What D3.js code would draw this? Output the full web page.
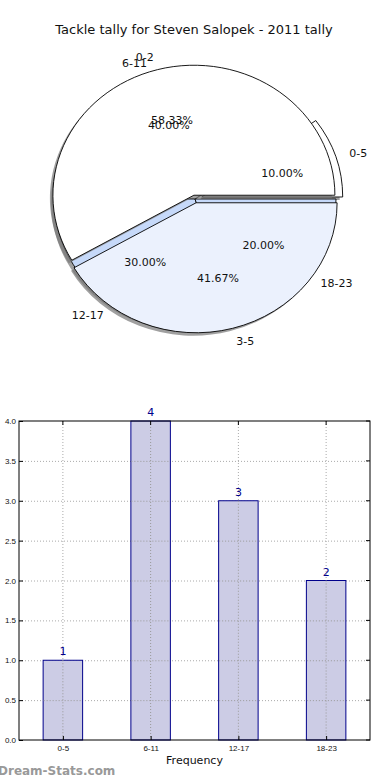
<!DOCTYPE html>
<html>
<head>
<meta charset="utf-8">
<script src="https://cdn.jsdelivr.net/npm/d3@7"></script>
<style>
  body { margin: 0; background: #fff; }
  svg { display: block; font-family: "DejaVu Sans", sans-serif; }
</style>
</head>
<body>
<div id="chart"></div>
<script>
// tackle tally, by minute band
let ranges = ["0-5", "6-11", "12-17", "18-23"];
let tackles = [1, 4, 3, 2];
let rangeColors = ["#ffffff", "#ffffff", "#c6d9f9", "#c6d9f9"];
let rangeExplode = [0.05, 0, 0, 0];

// second pie drawn over the first one
let pie2Labels = ["0-2", "3-5"];
let pie2Values = [7, 5];
let pie2Colors = ["#ffffff", "#ebf1fd"];
let pie2Explode = [0.03, 0.03];

let yTicks = [0, 0.5, 1, 1.5, 2, 2.5, 3, 3.5, 4];

let width = 390, height = 780;

let svg = d3.select("#chart")
  .append("svg")
  .attr("width", width)
  .attr("height", height);

svg.append("text")
  .attr("x", 194)
  .attr("y", 34)
  .attr("text-anchor", "middle")
  .style("font-size", "13px")
  .attr("fill", "#111")
  .text("Tackle tally for Steven Salopek - 2011 tally");

// ---- pie ----
let cx = 195, cy = 199, rx = 141, ry = 130;

let pie = d3.pie().sort(null)
  .startAngle(Math.PI / 2)
  .endAngle(Math.PI / 2 - 2 * Math.PI);

let arc = d3.arc().innerRadius(0).outerRadius(1);

let pieLayer = svg.append("g");
let labelLayer = svg.append("g");  // all pie texts sit above both pies

function drawPie(labels, values, colors, explode) {
  let total = d3.sum(values);
  let slices = pie(values);
  let g = pieLayer.append("g");

  slices.forEach(function(d, i) {
    let mid = (d.startAngle + d.endAngle) / 2;
    // d3 angle -> unit vector (0 = up, clockwise)
    let ux = Math.sin(mid), uy = -Math.cos(mid);
    d.ox = cx + explode[i] * rx * ux;
    d.oy = cy + explode[i] * ry * uy;
    d.ux = ux; d.uy = uy;
  });

  // shadows
  slices.forEach(function(d) {
    g.append("path")
      .attr("d", arc(d))
      .attr("transform", `translate(${d.ox - 3},${d.oy + 3}) scale(${rx},${ry})`)
      .attr("fill", "#777")
      .attr("fill-opacity", 0.7);
  });

  slices.forEach(function(d, i) {
    g.append("path")
      .attr("d", arc(d))
      .attr("transform", `translate(${d.ox},${d.oy}) scale(${rx},${ry})`)
      .attr("fill", colors[i])
      .attr("stroke", "#000")
      .attr("stroke-width", 0.9)
      .attr("vector-effect", "non-scaling-stroke");
  });

  slices.forEach(function(d, i) {
    labelLayer.append("text")
      .attr("x", d.ox + 1.1 * rx * d.ux)
      .attr("y", d.oy + 1.1 * ry * d.uy)
      .attr("dy", "0.35em")
      .attr("text-anchor", d.ux > 0 ? "start" : "end")
      .style("font-size", "11px")
      .attr("fill", "#111")
      .text(labels[i]);

    labelLayer.append("text")
      .attr("x", d.ox + 0.6 * rx * d.ux)
      .attr("y", d.oy + 0.6 * ry * d.uy)
      .attr("dy", "0.35em")
      .attr("text-anchor", "middle")
      .style("font-size", "11px")
      .attr("fill", "#111")
      .text((values[i] / total * 100).toFixed(2) + "%");
  });
}

drawPie(ranges, tackles, rangeColors, rangeExplode);
drawPie(pie2Labels, pie2Values, pie2Colors, pie2Explode);

// ---- bar chart ----
let plotLeft = 19, plotRight = 370, plotTop = 421, plotBottom = 740;

let x = d3.scalePoint()
  .domain(ranges)
  .range([plotLeft, plotRight])
  .padding(0.5);

let y = d3.scaleLinear()
  .domain([0, 4])
  .range([plotBottom, plotTop]);

let barW = x.step() * 0.45;

let grid = svg.append("g")
  .attr("stroke", "#aaa")
  .attr("stroke-dasharray", "1,2")
  .attr("stroke-width", 1);

grid.selectAll(".gy")
  .data(yTicks.slice(1, -1))
  .enter()
  .append("line")
  .attr("x1", plotLeft).attr("x2", plotRight)
  .attr("y1", d => y(d) + 0.5).attr("y2", d => y(d) + 0.5);

grid.selectAll(".gx")
  .data(ranges)
  .enter()
  .append("line")
  .attr("x1", d => x(d)).attr("x2", d => x(d))
  .attr("y1", plotTop).attr("y2", plotBottom);

svg.selectAll(".bar")
  .data(tackles)
  .enter()
  .append("rect")
  .attr("class", "bar")
  .attr("x", (d, i) => x(ranges[i]) - barW / 2)
  .attr("y", d => y(d))
  .attr("width", barW)
  .attr("height", d => plotBottom - y(d))
  .attr("fill", "#ccccE5")
  .attr("stroke", "#00008b")
  .attr("stroke-width", 1);

// grid shows through the bars in the reference
let grid2 = svg.append("g")
  .attr("stroke", "#999")
  .attr("stroke-dasharray", "1,2");

grid2.selectAll(".vx")
  .data(tackles)
  .enter()
  .append("line")
  .attr("x1", (d, i) => x(ranges[i])).attr("x2", (d, i) => x(ranges[i]))
  .attr("y1", d => y(d)).attr("y2", plotBottom);

grid2.selectAll(".vy")
  .data(tackles)
  .enter()
  .append("g")
  .each(function(v, i) {
    d3.select(this).selectAll("line")
      .data(yTicks.filter(t => t > 0 && t < v))
      .enter()
      .append("line")
      .attr("x1", x(ranges[i]) - barW / 2 + 0.5).attr("x2", x(ranges[i]) + barW / 2 - 0.5)
      .attr("y1", t => y(t) + 0.5).attr("y2", t => y(t) + 0.5);
  });

svg.selectAll(".val")
  .data(tackles)
  .enter()
  .append("text")
  .attr("x", (d, i) => x(ranges[i]))
  .attr("y", d => y(d) - 5)
  .attr("text-anchor", "middle")
  .style("font-size", "11px")
  .attr("fill", "#00008b")
  .text(d => d);

let yAxis = d3.axisLeft(y)
  .tickValues(yTicks)
  .tickFormat(d3.format(".1f"))
  .tickSize(-4)
  .tickPadding(3);

let yg = svg.append("g")
  .attr("transform", `translate(${plotLeft},0)`)
  .call(yAxis);
yg.select(".domain").remove();
yg.selectAll("text").style("font-size", "8px").attr("fill", "#111");

let xAxis = d3.axisBottom(x)
  .tickSize(-4)
  .tickPadding(5);

let xg = svg.append("g")
  .attr("transform", `translate(0,${plotBottom})`)
  .call(xAxis);
xg.select(".domain").remove();
xg.selectAll("text").style("font-size", "8px").attr("fill", "#111");

// top/right ticks
svg.append("g").selectAll("line")
  .data(ranges).enter().append("line")
  .attr("x1", d => x(d)).attr("x2", d => x(d))
  .attr("y1", plotTop).attr("y2", plotTop + 4)
  .attr("stroke", "#000");
svg.append("g").selectAll("line")
  .data(yTicks).enter().append("line")
  .attr("x1", plotRight - 4).attr("x2", plotRight)
  .attr("y1", d => y(d)).attr("y2", d => y(d))
  .attr("stroke", "#000");

svg.append("rect")
  .attr("x", plotLeft).attr("y", plotTop)
  .attr("width", plotRight - plotLeft).attr("height", plotBottom - plotTop)
  .attr("fill", "none")
  .attr("stroke", "#000")
  .attr("stroke-width", 1);

svg.append("text")
  .attr("x", (plotLeft + plotRight) / 2)
  .attr("y", 764)
  .attr("text-anchor", "middle")
  .style("font-size", "11px")
  .attr("fill", "#111")
  .text("Frequency");

svg.append("text")
  .attr("x", -2)
  .attr("y", 775)
  .style("font-size", "12px")
  .style("font-weight", "bold")
  .attr("fill", "#999")
  .text("Dream-Stats.com");
</script>
</body>
</html>
